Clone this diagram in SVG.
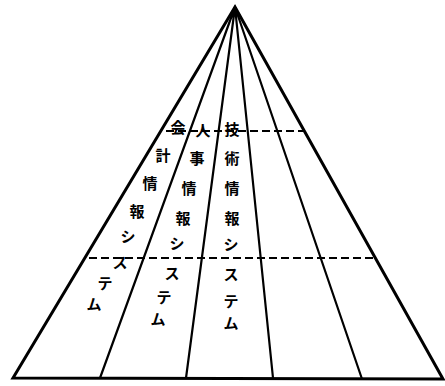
<svg xmlns="http://www.w3.org/2000/svg" width="445" height="386" viewBox="0 0 445 386">
<style>
.edge{stroke:#000;stroke-width:3;fill:none;stroke-linecap:round}
.inner{stroke:#000;stroke-width:2.2;fill:none}
.dash{stroke:#000;stroke-width:2;stroke-dasharray:8 4;fill:none}
.t{font-family:"Noto Sans CJK JP","Noto Sans CJK SC",sans-serif;font-size:15px;font-weight:bold;fill:#000;text-anchor:middle;dominant-baseline:central}
</style>
<rect width="445" height="386" fill="#fff"/>
<g id="connectors">
<path class="edge" d="M235,7 L13,378 L443,379 Z" stroke-linejoin="miter"/>
<path class="inner" d="M235,7 L100,378 M235,7 L186,378 M235,7 L273,378 M235,7 L362,379"/>
<polygon points="235,5 229,16 241,16" fill="#000"/>
<path class="dash" d="M166,131 L305,131"/>
<path class="dash" d="M89,258 L373,258" stroke-width="2.5"/>
</g>
<g id="accounting" class="t">
<text x="178" y="126">会</text>
<text x="163" y="154">計</text>
<text x="150" y="182">情</text>
<text x="137" y="210">報</text>
<text x="128" y="235">シ</text>
<text x="120" y="261">ス</text>
<text x="105" y="282">テ</text>
<text x="94" y="303">ム</text>
</g>
<g id="personnel" class="t">
<text x="203" y="129">人</text>
<text x="197" y="157">事</text>
<text x="189" y="187">情</text>
<text x="183" y="217">報</text>
<text x="177" y="242">シ</text>
<text x="172" y="272">ス</text>
<text x="164" y="296">テ</text>
<text x="158" y="318">ム</text>
</g>
<g id="technical" class="t">
<text x="232" y="128">技</text>
<text x="232" y="157">術</text>
<text x="232" y="187">情</text>
<text x="232" y="217">報</text>
<text x="231" y="243">シ</text>
<text x="231" y="273">ス</text>
<text x="231" y="300">テ</text>
<text x="231" y="322">ム</text>
</g>
</svg>
